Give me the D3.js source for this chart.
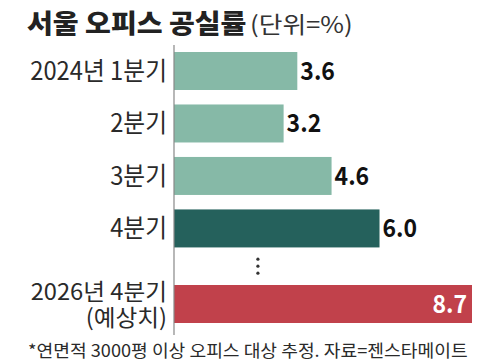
<!DOCTYPE html>
<html><head><meta charset="utf-8">
<script src="https://cdn.jsdelivr.net/npm/d3@7"></script>
<style>
html,body{margin:0;padding:0;background:#fff;}
svg{display:block;}
text{font-family:"Noto Sans CJK KR","Noto Sans",sans-serif;}
</style></head><body>
<svg id="c" width="485" height="363"></svg>
<script>
const categories = ["2024년 1분기", "2분기", "3분기", "4분기", "2026년 4분기|(예상치)"];
const values = [3.6, 3.2, 4.6, 6.0, 8.7];
const kinds = ["past", "past", "past", "latest", "forecast"];
const slots = [0, 1, 2, 3, 4.44];
const title = "서울 오피스 공실률";
const unit = "(단위=%)";
const note = "*연면적 3000평 이상 오피스 대상 추정. 자료=젠스타메이트";

const colors = {past: "#86b9a7", latest: "#25615c", forecast: "#c1414b"};
const svg = d3.select("#c");
const x = d3.scaleLinear().domain([0, 8.7]).range([174, 472]);
const y = d3.scaleLinear().domain([0, 4.44]).range([52, 285]);
const bh = 38;

// title
svg.append("text").attr("transform", "translate(27,33) scale(1.08,1)")
  .attr("font-size", 26).attr("font-weight", 900).attr("fill", "#222").text(title);
svg.append("text").attr("transform", "translate(250,33) scale(1.12,1)")
  .attr("font-size", 23).attr("font-weight", 400).attr("fill", "#333").text(unit);

// bars
svg.selectAll("rect.bar").data(values).join("rect").attr("class", "bar")
  .attr("x", x(0)).attr("y", (d, i) => y(slots[i]))
  .attr("width", d => x(d) - x(0)).attr("height", bh)
  .attr("fill", (d, i) => colors[kinds[i]]);

// axis line
svg.append("line").attr("x1", x(0)).attr("x2", x(0))
  .attr("y1", y(0) - 7).attr("y2", y(4.44) + bh + 12)
  .attr("stroke", "#888").attr("stroke-width", 1.2);

// value labels
values.forEach((v, i) => {
  const cy = y(slots[i]) + bh / 2;
  const inside = kinds[i] === "forecast";
  svg.append("text")
    .attr("transform", `translate(${inside ? x(v) - 5 : x(v) + 3},${cy + 9}) scale(0.92,1)`)
    .attr("text-anchor", inside ? "end" : "start")
    .attr("font-size", 25).attr("font-weight", 700)
    .attr("fill", inside ? "#fff" : "#111")
    .text(d3.format(".1f")(v));
});

// category labels
categories.forEach((c, i) => {
  const lines = c.split("|");
  const multi = lines.length > 1;
  const cy = y(slots[i]) + bh / 2;
  const fs = multi ? 23 : 25;
  const gap = 26;
  const t = svg.append("text")
    .attr("transform", `translate(167,${cy + 9 - (lines.length - 1) * gap / 2}) scale(${multi ? 1.03 : 0.95},1)`)
    .attr("text-anchor", "end").attr("font-size", fs)
    .attr("fill", "#2a2a2a");
  lines.forEach((ln, j) => {
    t.append("tspan").attr("x", 0).attr("dy", j === 0 ? 0 : gap).text(ln);
  });
});

// ellipsis between actual and forecast
const gapMid = (y(slots[3]) + bh + y(slots[4])) / 2;
[-7, 0, 7].forEach(o => {
  svg.append("circle").attr("cx", x(2.45)).attr("cy", gapMid + o).attr("r", 1.6).attr("fill", "#333");
});

// footnote
svg.append("text").attr("transform", "translate(28,357) scale(1.07,1)")
  .attr("font-size", 17).attr("fill", "#2a2a2a").text(note);
</script>
</body></html>
